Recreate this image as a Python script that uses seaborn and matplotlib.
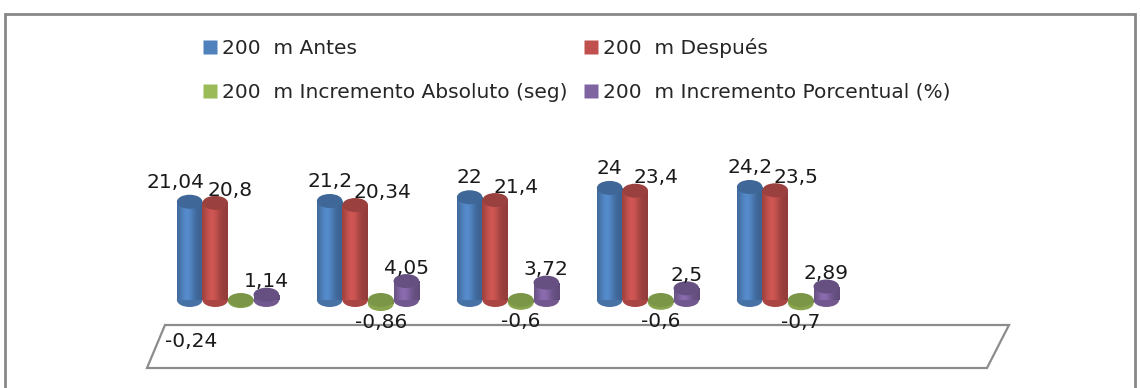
import numpy as np
import pandas as pd
import seaborn as sns
import matplotlib.pyplot as plt
from matplotlib.patches import Ellipse, Polygon, Rectangle
from matplotlib.lines import Line2D
from matplotlib.colors import to_rgb

# data
grupos = ["1", "2", "3", "4", "5"]
series = ["200  m Antes", "200  m Después",
          "200  m Incremento Absoluto (seg)", "200  m Incremento Porcentual (%)"]
antes = [21.04, 21.2, 22, 24, 24.2]
despues = [20.8, 20.34, 21.4, 23.4, 23.5]
inc_abs = [-0.24, -0.86, -0.6, -0.6, -0.7]
inc_pct = [1.14, 4.05, 3.72, 2.5, 2.89]
colores = ["#4F81BD", "#C0504D", "#9BBB59", "#8064A2"]

W, H = 1141, 388
PX = 4.67          # pixels per data unit on y
BASE = 300         # pixel row of the zero line
CAP = 14 / PX      # cap ellipse height in data units


def fmt(v):
    return f"{v:g}".replace(".", ",")


def main():
    df = pd.DataFrame({
        "grupo": grupos * 4,
        "serie": np.repeat(series, len(grupos)),
        "valor": antes + despues + inc_abs + inc_pct,
    })

    sns.set_style("white")
    plt.rcParams["font.family"] = ["DejaVu Sans"]
    fig = plt.figure(figsize=(W / 100, H / 100), dpi=100)
    ax_left, ax_right, ax_top, ax_bot = 140, 1010, 150, 380
    ax = fig.add_axes([ax_left / W, (H - ax_bot) / H,
                       (ax_right - ax_left) / W, (ax_bot - ax_top) / H])
    sns.barplot(data=df, x="grupo", y="valor", hue="serie", palette=colores,
                width=0.73, gap=0, ax=ax, legend=False, saturation=1,
                linewidth=0, errorbar=None)

    xlim = ((ax_left - 228) / 140, (ax_right - 228) / 140)
    ylim = (-(ax_bot - BASE) / PX, (BASE - ax_top) / PX)

    for k, cont in enumerate(ax.containers):
        rgb = np.array(to_rgb(colores[k]))
        t = np.linspace(0, 1, 64)
        f = 0.76 + 0.32 * np.exp(-((t - 0.38) / 0.3) ** 2)
        grad = np.clip(rgb[None, :] * f[:, None], 0, 1)[None, :, :]
        for j, rect in enumerate(cont.patches):
            x0, w = rect.get_x(), rect.get_width()
            y0 = min(rect.get_y(), rect.get_y() + rect.get_height())
            y1 = max(rect.get_y(), rect.get_y() + rect.get_height())
            xc = x0 + w / 2
            rect.set_zorder(3 + 3 * k)
            im = ax.imshow(grad, extent=(x0, x0 + w, y0, y1), aspect="auto",
                           zorder=3 + 3 * k, interpolation="bilinear")
            im.set_clip_path(rect)
            ax.add_patch(Ellipse((xc, y0), w, CAP, facecolor=rgb * 0.88,
                                 edgecolor="none", zorder=2 + 3 * k))
            ax.add_patch(Ellipse((xc, y1), w, CAP, facecolor=rgb * 0.8,
                                 edgecolor="none", zorder=4 + 3 * k))

            val = cont.datavalues[j]
            kw = dict(fontsize=14.5, color="#1a1a1a", zorder=20)
            if k == 0:
                dx = -w * 0.55 if j == 0 else 0
                ax.text(xc + dx, y1 + CAP / 2 + 0.6, fmt(val), ha="center", va="bottom", **kw)
            elif k == 1:
                dx = -w * 0.3 if j == 0 else -w * 0.05
                ax.text(xc + dx, y1 + CAP / 2 - 0.8, fmt(val), ha="left", va="bottom", **kw)
            elif k == 3:
                ax.text(xc, y1 + CAP / 2 - 0.8, fmt(val), ha="center", va="bottom", **kw)
            elif j == 0:
                # Excel parked this label on the floor
                ax.text(xlim[0] + 0.18, ylim[0] + 8.3, fmt(val), ha="left", va="center", **kw)
            else:
                ax.text(xc, y0 - CAP / 2 - 0.5, fmt(val), ha="center", va="top", **kw)

    ax.set_xlim(*xlim)
    ax.set_ylim(*ylim)
    ax.axis("off")

    # floor of the 3-D plot and the chart frame
    floor = [(165, 325), (1009, 325), (987, 368), (147, 368)]
    fig.add_artist(Polygon([(x / W, 1 - y / H) for x, y in floor], closed=True,
                           transform=fig.transFigure, facecolor="none",
                           edgecolor="#8c8c8c", linewidth=1.6, zorder=0))
    fig.add_artist(Rectangle((5 / W, -0.05), 1130 / W, 1.05 - 14 / H,
                             transform=fig.transFigure, facecolor="none",
                             edgecolor="#888888", linewidth=2))

    handles = [Line2D([], [], marker="s", linestyle="none", markersize=9.5,
                      markerfacecolor=c, markeredgecolor="none") for c in colores]
    order = [0, 2, 1, 3]
    fig.legend([handles[i] for i in order], [series[i] for i in order],
               ncol=2, loc="upper left", bbox_to_anchor=(193 / W, 1 - 28 / H),
               frameon=False, handlelength=0.7, handletextpad=0.25,
               columnspacing=0.8, labelspacing=1.22, borderpad=0,
               prop={"family": "DejaVu Sans", "size": 14.5})

    fig.savefig("out.png", dpi=100)


main()
